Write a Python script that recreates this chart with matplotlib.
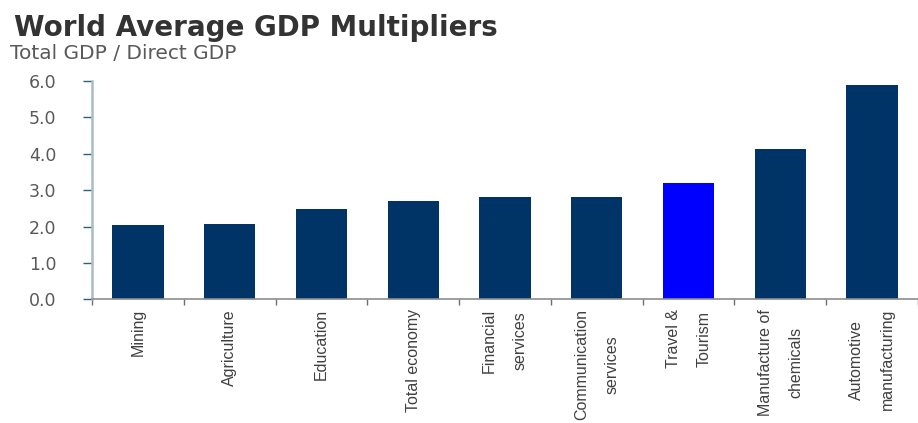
import numpy as np
import matplotlib
matplotlib.use("Agg")
import matplotlib.pyplot as plt

# GDP multipliers by sector (total GDP / direct GDP)
sectors = ["Mining", "Agriculture", "Education", "Total economy",
           "Financial\nservices", "Communication\nservices",
           "Travel &\nTourism", "Manufacture of\nchemicals",
           "Automotive\nmanufacturing"]
multipliers = [2.04, 2.07, 2.47, 2.69, 2.80, 2.82, 3.20, 4.12, 5.88]
highlight = "Travel &\nTourism"

navy = "#003366"
blue = "#0000ff"
grey_txt = "#595959"

fig = plt.figure(figsize=(9.18, 4.23), dpi=100)
ax = fig.add_axes([0.1002, 0.2924, 0.8998, 0.516])

x = np.arange(len(sectors))
colors = [blue if s == highlight else navy for s in sectors]
ax.bar(x, multipliers, width=0.56, color=colors, edgecolor="none", zorder=2)

ax.set_ylim(0, 6)
ax.set_xlim(-0.5, 8.41)
yt = np.arange(0, 6.1, 1.0)
ax.set_yticks(yt)
ax.set_yticklabels(["%.1f" % v for v in yt])
ax.tick_params(axis="y", length=6.5, width=1, color="#2f5f7a", pad=19,
               labelsize=12.5, labelcolor=grey_txt)

# labels on the categories, short ticks on the boundaries between them
ax.set_xticks(x)
ax.set_xticklabels(sectors)
ax.tick_params(axis="x", which="major", length=0, pad=7)
ax.set_xticks(np.arange(-0.5, len(sectors), 1.0), minor=True)
ax.tick_params(axis="x", which="minor", length=4.5, width=1, color="#707070")
for lbl in ax.get_xticklabels():
    lbl.set_rotation(90)
    lbl.set_fontsize(11.5)
    lbl.set_color("#404040")
    lbl.set_family(["Liberation Sans Narrow", "Liberation Sans", "DejaVu Sans"])
    lbl.set_ha("center")
    lbl.set_va("top")
    lbl.set_multialignment("center")
    lbl.set_linespacing(2.3)

for side in ["top", "right"]:
    ax.spines[side].set_visible(False)
ax.spines["left"].set_color("#a9bccb")
ax.spines["left"].set_linewidth(1.8)
ax.spines["bottom"].set_color("#8c8c8c")
ax.spines["bottom"].set_linewidth(1.2)

fig.text(0.015, 0.968, "World Average GDP Multipliers", fontsize=20,
         fontweight="bold", color="#333333", family="DejaVu Sans",
         ha="left", va="top")
fig.text(0.011, 0.895, "Total GDP / Direct GDP", fontsize=14.5,
         color=grey_txt, family="DejaVu Sans", ha="left", va="top")

fig.savefig("out.png", dpi=100)
